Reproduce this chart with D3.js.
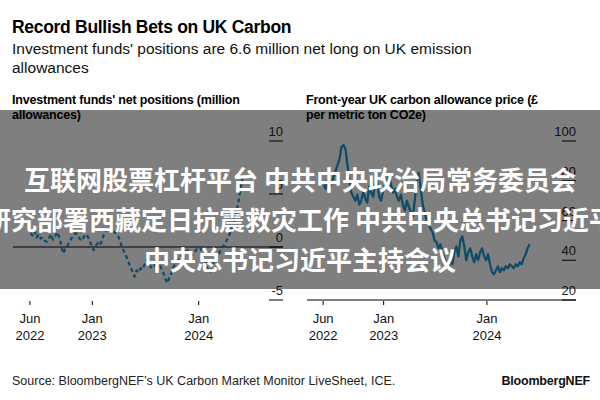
<!DOCTYPE html>
<html><head><meta charset="utf-8">
<script src="https://cdn.jsdelivr.net/npm/d3@7"></script>
<style>body{margin:0;background:#fff}svg{display:block}</style>
</head><body><svg id="c" width="600" height="400"></svg>
<script>
// ---- data ----
const seriesStart = "2022-06-03"; // weekly observations
const netPositions = [1.3,1.1,1.5,0.9,1.2,0.8,0.9,0.6,0.5,0.8,1.2,0.7,1.0,1.4,1.0,0.2,-0.6,-0.2,0.0,0.5,
  0.8,1.0,1.3,1.2,0.8,0.6,0.9,1.2,1.0,0.6,0.1,-0.3,0.1,0.4,0.2,0.6,1.2,1.6,1.9,2.0,
  1.6,1.4,1.3,1.0,0.5,-0.1,-0.5,-0.9,-1.4,-1.9,-2.3,-2.8,-2.2,-2.4,-2.0,-2.1,-1.6,-1.2,-1.6,-1.9,
  -2.0,-1.7,-1.2,-1.5,-2.0,-2.4,-3.0,-3.4,-2.9,-2.5,-1.9,-1.6,-1.3,-1.0,-0.8,-0.6,-0.4,-0.3,-0.5,-0.8,
  -0.6,-0.3,-0.1,0.0,-0.4,-1.0,-1.6,-2.2,-2.4,-1.8,-1.2,-1.0,-0.9,-0.3,0.0,0.2,0.6,0.9,1.4,2.0,
  2.6,3.4,4.4,5.6,6.6];
const ukaPrice = [78,76,80,77,79,82,85,88,91,97,98,96,88,80,74,72,70,73,68,70,
  75,71,69,77,74,72,79,80,72,70,75,78,80,83,78,74,76,72,70,73,
  68,65,70,67,64,62,70,80,84,76,68,64,60,58,56,54,50,49,46,48,
  44,41,38,36,40,38,44,47,42,50,52,47,40,44,46,42,39,43,40,44,
  46,42,40,43,38,34,33,35,37,34,36,35,37,36,38,37,36,38,37,39,
  38,41,43,46,48];
const leftTicks = [10,5,0,-5];
const rightTicks = [100,80,60,40,20];
const xTickDates = ["2022-06-01","2023-01-01","2024-01-01"];
const xTickMonths = ["Jun","Jan","Jan"];
const xTickYears = ["2022","2023","2024"];
const overlayLines = ["互联网股票杠杆平台 中共中央政治局常务委员会",
  "研究部署西藏定日抗震救灾工作 中共中央总书记习近平",
  "中央总书记习近平主持会议"];

// ---- drawing ----
const svg = d3.select("#c");
const FONT = "'Liberation Sans', Arial, sans-serif";
const parse = d3.timeParse("%Y-%m-%d");
const t0 = parse(seriesStart);
const mk = vals => vals.map((v,i)=>({date:d3.timeDay.offset(t0,7*i), v}));
const LINE = "#1c9ad2";

svg.append("text").attr("x",12).attr("y",33).attr("font-family",FONT).attr("font-weight","bold")
  .attr("font-size",17.5).attr("fill","#000").attr("letter-spacing","-0.3").text("Record Bullish Bets on UK Carbon");
svg.append("text").attr("x",12).attr("y",54).attr("font-family",FONT).attr("font-size",15.5).attr("fill","#111")
  .text("Investment funds' positions are 6.6 million net long on UK emission");
svg.append("text").attr("x",12).attr("y",73).attr("font-family",FONT).attr("font-size",15.5).attr("fill","#111")
  .text("allowances");

function panel(o){
  const x = d3.scaleTime().domain([parse(o.d0),parse(o.d1)]).range([o.x0,o.x1]);
  const y = d3.scaleLinear().domain(o.ydom).range([300,141]);
  const g = svg.append("g");
  o.title.forEach((t,i)=>g.append("text").attr("x",o.tx).attr("y",104+i*15).attr("font-family",FONT)
    .attr("font-weight","bold").attr("font-size",12.5).attr("fill","#000").attr("letter-spacing","-0.2").text(t));
  g.append("line").attr("x1",o.x0).attr("x2",o.x1).attr("y1",y(o.base)).attr("y2",y(o.base))
    .attr("stroke","#000").attr("stroke-width",1);
  o.ticks.forEach(t=>{
    g.append("line").attr("x1",o.x1-14).attr("x2",o.x1).attr("y1",y(t)).attr("y2",y(t)).attr("stroke","#000");
    g.append("text").attr("x",o.x1).attr("y",y(t)-5).attr("text-anchor","end").attr("font-family",FONT)
      .attr("font-size",13).attr("fill","#222").text(t);
  });
  xTickDates.forEach((d,i)=>{
    const xx = x(parse(d));
    g.append("line").attr("x1",xx).attr("x2",xx).attr("y1",301).attr("y2",305).attr("stroke","#000");
    g.append("text").attr("x",xx).attr("y",323).attr("text-anchor","middle").attr("font-family",FONT)
      .attr("font-size",13).attr("fill","#111").text(xTickMonths[i]);
    g.append("text").attr("x",xx).attr("y",340).attr("text-anchor","middle").attr("font-family",FONT)
      .attr("font-size",13).attr("fill","#111").text(xTickYears[i]);
  });
  const line = d3.line().x(d=>x(d.date)).y(d=>y(d.v));
  const p = g.append("path").datum(mk(o.data)).attr("d",line).attr("fill","none")
    .attr("stroke",LINE).attr("stroke-width",o.sw).attr("stroke-linejoin","round");
  if(o.dash) p.attr("stroke-dasharray",o.dash);
}
panel({title:["Investment funds' net positions (million","allowances)"],tx:12,
  d0:"2022-04-04",d1:"2024-10-16",x0:13,x1:283,ydom:[-5,10],base:0,ticks:leftTicks,
  data:netPositions,sw:2.3,dash:"4,3"});
panel({title:["Front-year UK carbon allowance price (£","per metric ton CO2e)"],tx:306,
  d0:"2022-04-05",d1:"2024-11-11",x0:307,x1:576,ydom:[20,100],base:20,ticks:rightTicks,
  data:ukaPrice,sw:2.3});

svg.append("text").attr("x",12).attr("y",385).attr("font-family",FONT).attr("font-size",12.5).attr("fill","#222")
  .text("Source: BloombergNEF’s UK Carbon Market Monitor LiveSheet, ICE.");
svg.append("text").attr("x",590).attr("y",385).attr("text-anchor","end").attr("font-family",FONT)
  .attr("font-weight","bold").attr("font-size",12.5).attr("fill","#111").attr("letter-spacing","-0.2").text("BloombergNEF");

// ---- overlay banner ----
svg.append("rect").attr("x",0).attr("y",110).attr("width",600).attr("height",179).attr("fill","rgba(0,0,0,0.5)");
overlayLines.forEach((t,i)=>svg.append("text").attr("x",300).attr("y",190+i*40).attr("text-anchor","middle")
  .attr("font-family","'Noto Sans CJK SC', sans-serif").attr("font-weight","bold").attr("font-size",26)
  .attr("fill","#fff").text(t));
</script></body></html>
